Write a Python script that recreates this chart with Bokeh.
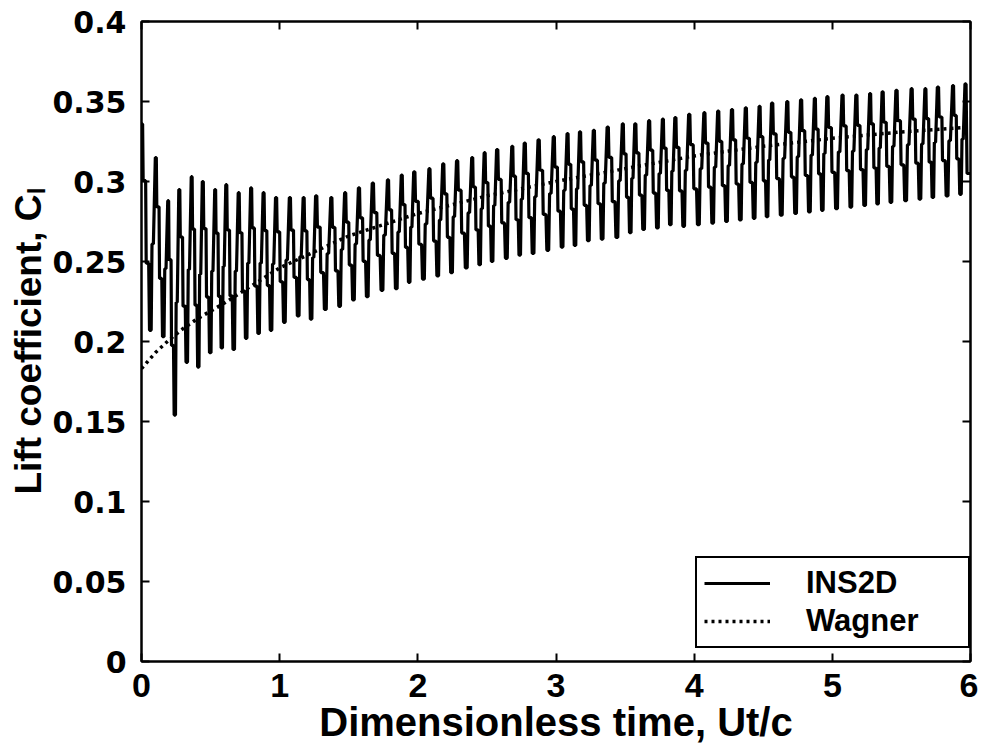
from bokeh.plotting import figure
from bokeh.models import Range1d, FixedTicker, LinearAxis, Legend, LegendItem
from bokeh.embed import file_html
from bokeh.resources import INLINE

# ---- INS2D: per-cycle peak times, peak values, trough values (trough before each next peak)
peak_t = [0.00, 0.10, 0.19, 0.27, 0.36, 0.44, 0.53, 0.61, 0.70, 0.79, 0.88, 0.97,
          1.07, 1.17, 1.26, 1.37, 1.47, 1.57, 1.67, 1.78, 1.88, 1.97,
          2.08, 2.18, 2.28, 2.39, 2.48, 2.57, 2.68, 2.77, 2.87, 2.98,
          3.08, 3.17, 3.27, 3.37, 3.48, 3.57, 3.67, 3.77, 3.86, 3.96,
          4.07, 4.17, 4.27, 4.37, 4.47, 4.56, 4.67, 4.77, 4.87, 4.96,
          5.07, 5.17, 5.27, 5.36, 5.46, 5.57, 5.67, 5.76, 5.87, 5.96]
peak_cl = [0.336, 0.315, 0.288, 0.295, 0.303, 0.300, 0.295, 0.298, 0.293, 0.296, 0.293, 0.290,
           0.290, 0.290, 0.291, 0.290, 0.293, 0.296, 0.299, 0.301, 0.304, 0.306,
           0.308, 0.311, 0.313, 0.315, 0.318, 0.320, 0.322, 0.324, 0.326, 0.328,
           0.330, 0.331, 0.332, 0.334, 0.336, 0.336, 0.338, 0.339, 0.340, 0.342,
           0.343, 0.344, 0.345, 0.346, 0.347, 0.349, 0.350, 0.351, 0.352, 0.353,
           0.354, 0.354, 0.355, 0.356, 0.357, 0.358, 0.358, 0.359, 0.360, 0.361]
trough_cl = [0.207, 0.203, 0.154, 0.187, 0.184, 0.193, 0.196, 0.195, 0.202, 0.205, 0.207,
             0.212, 0.216, 0.214, 0.220, 0.222, 0.226, 0.228, 0.232, 0.233, 0.237,
             0.239, 0.241, 0.243, 0.246, 0.248, 0.250, 0.252, 0.254, 0.255, 0.257,
             0.259, 0.260, 0.263, 0.264, 0.265, 0.268, 0.270, 0.271, 0.273, 0.272,
             0.273, 0.274, 0.275, 0.276, 0.277, 0.278, 0.279, 0.280, 0.281, 0.282,
             0.283, 0.284, 0.285, 0.286, 0.287, 0.288, 0.289, 0.290, 0.291, 0.292]
end_t = 6.0
end_cl = 0.305

# ---- Wagner function curve
wagner_t = [0.0, 0.1, 0.2, 0.3, 0.4, 0.5, 0.6, 0.8, 1.0, 1.25, 1.5, 1.75, 2.0,
            2.5, 3.0, 3.5, 4.0, 4.5, 5.0, 5.5, 6.0]
wagner_cl = [0.183, 0.193, 0.201, 0.208, 0.214, 0.219, 0.224, 0.235, 0.246, 0.256, 0.266,
             0.273, 0.280, 0.291, 0.300, 0.308, 0.316, 0.322, 0.327, 0.331, 0.334]

x_ticks = [0, 1, 2, 3, 4, 5, 6]
y_ticks = [0, 0.05, 0.1, 0.15, 0.2, 0.25, 0.3, 0.35, 0.4]
y_tick_labels = ["0", "0.05", "0.1", "0.15", "0.2", "0.25", "0.3", "0.35", "0.4"]

# build the stepped oscillation trace from the per-cycle readings
xs, ys = [], []
n = len(peak_t)
for k in range(n):
    tp, P = peak_t[k], peak_cl[k]
    xs.append(tp); ys.append(P)
    if k + 1 < n:
        d = peak_t[k + 1] - tp
        T = trough_cl[k]
        Pn = peak_cl[k + 1]
        M = 0.5 * (P + T)
        U = M + 0.45 * (P - M)
        L = M - 0.35 * (M - T)
        Mn = 0.5 * (T + Pn)
        shape = [(0.08, P), (0.12, U), (0.30, U), (0.34, L), (0.52, L),
                 (0.58, T), (0.70, T), (0.76, Mn), (0.86, Mn)]
        for f, v in shape:
            xs.append(tp + f * d); ys.append(v)
    else:
        xs += [tp + 0.008, tp + 0.015, end_t]
        ys += [P, end_cl, end_cl]

FONT = "Liberation Sans"

p = figure(width=978, height=746, x_range=Range1d(0, 6), y_range=Range1d(0, 0.4),
           output_backend="svg", toolbar_location=None,
           min_border_left=141, min_border_right=8, min_border_top=21, min_border_bottom=80)
p.background_fill_color = "white"
p.border_fill_color = "white"
p.outline_line_color = "black"
p.outline_line_width = 2
p.outline_line_alpha = 1
p.xgrid.visible = False
p.ygrid.visible = False

r1 = p.line(xs, ys, line_color="black", line_width=3.2)
r2 = p.line(wagner_t, wagner_cl, line_color="black", line_width=3.5, line_dash="3 4")

xa = p.xaxis[0]
xa.ticker = FixedTicker(ticks=x_ticks)
xa.axis_label = "Dimensionless time, Ut/c"
ya = p.yaxis[0]
ya.ticker = FixedTicker(ticks=y_ticks)
ya.major_label_overrides = {t: s for t, s in zip(y_ticks, y_tick_labels)}
ya.axis_label = "Lift coefficient, C\u2097"

for ax in (xa, ya):
    ax.axis_line_width = 2
    ax.major_tick_in = 8
    ax.major_tick_out = 0
    ax.major_tick_line_width = 2
    ax.minor_tick_line_color = None
    ax.axis_label_text_font = FONT
    ax.axis_label_text_font_style = "bold"
    ax.axis_label_text_color = "black"
    ax.major_label_text_color = "black"
    ax.major_label_text_font_style = "bold"

xa.major_label_text_font = FONT
xa.major_label_text_font_size = "34px"
xa.major_label_standoff = 12
xa.axis_label_text_font_size = "40px"
xa.axis_label_standoff = 0

ya.major_label_text_font = "DejaVu Sans"
ya.major_label_text_font_size = "30px"
ya.major_label_standoff = 15
ya.axis_label_text_font_size = "37px"
ya.axis_label_standoff = 0

# mirrored tick marks on top and right (MATLAB box), without labels
top = LinearAxis(ticker=FixedTicker(ticks=x_ticks))
top.major_label_overrides = {t: "" for t in x_ticks}
right = LinearAxis(ticker=FixedTicker(ticks=y_ticks))
right.major_label_overrides = {t: "" for t in y_ticks}
for ax in (top, right):
    ax.axis_line_width = 2
    ax.major_tick_in = 8
    ax.major_tick_out = 0
    ax.major_tick_line_width = 2
    ax.minor_tick_line_color = None
    ax.major_label_standoff = 0
    ax.major_label_text_font_size = "8px"
p.add_layout(top, "above")
p.add_layout(right, "right")

legend = Legend(items=[LegendItem(label="INS2D", renderers=[r1]),
                       LegendItem(label="Wagner", renderers=[r2])],
                location=(554, 13))
legend.border_line_color = "black"
legend.border_line_width = 2
legend.border_line_alpha = 1
legend.background_fill_color = "white"
legend.background_fill_alpha = 1
legend.label_text_font = FONT
legend.label_text_font_style = "bold"
legend.label_text_font_size = "31px"
legend.label_text_color = "black"
legend.glyph_width = 66
legend.glyph_height = 28
legend.label_height = 28
legend.label_width = 155
legend.label_standoff = 36
legend.padding = 7
legend.spacing = 2
legend.margin = 0
p.add_layout(legend)

open("out.html", "w").write(file_html(p, INLINE))
